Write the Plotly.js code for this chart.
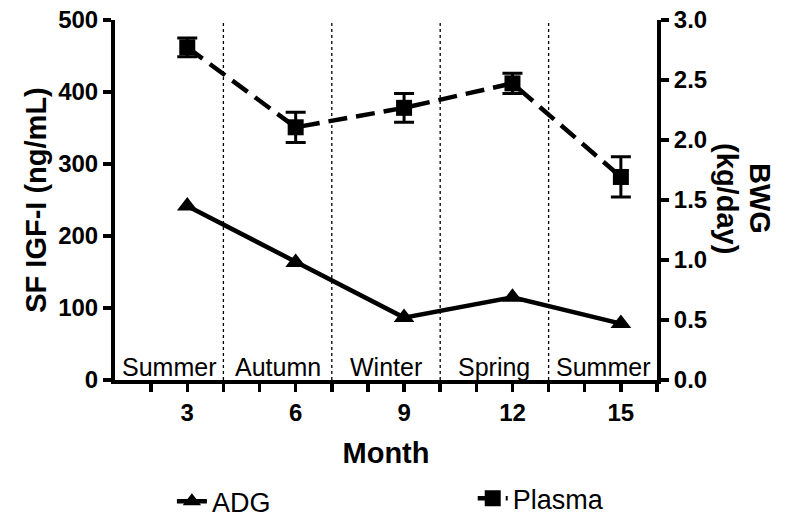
<!DOCTYPE html>
<html>
<head>
<meta charset="utf-8">
<script src="https://cdn.plot.ly/plotly-3.0.1.min.js"></script>
<style>html,body{margin:0;padding:0;background:#fff;}#chart{width:799px;height:520px;}</style>
</head>
<body>
<div id="chart"></div>
<script>
// Data
var months = [3, 6, 9, 12, 15];
var plasmaIGF = [462, 351, 378, 412, 282];      // SF IGF-I (ng/mL), left axis
var plasmaErr = [13, 21, 20, 14, 28];
var adgBWG = [1.45, 0.98, 0.52, 0.69, 0.47];    // BWG (kg/day), right axis
var seasons = ["Summer", "Autumn", "Winter", "Spring", "Summer"];
var seasonStarts = [1, 4, 7, 10, 13];
var seasonEnds = [4, 7, 10, 13, 16];
var xTickVals = [2,3,4,5,6,7,8,9,10,11,12,13,14,15,16];
var xTickText = ["","3","","","6","","","9","","","12","","","15",""];
var leftTicks = [0, 100, 200, 300, 400, 500];
var rightTicks = [0, 0.5, 1.0, 1.5, 2.0, 2.5, 3.0];

var FONT = "Arial, 'Liberation Sans', sans-serif";

var traces = [
  {
    x: months, y: adgBWG, yaxis: "y2", name: "ADG", legend: "legend",
    mode: "lines+markers", type: "scatter",
    line: {color: "#000", width: 4.5},
    marker: {symbol: "triangle-up", size: 18, color: "#000"}
  },
  {
    x: months, y: plasmaIGF, yaxis: "y", name: "Plasma", legend: "legend2",
    mode: "lines+markers", type: "scatter",
    line: {color: "#000", width: 4.5, dash: "19px,9px"},
    marker: {symbol: "square", size: 16, color: "#000"},
    error_y: {type: "data", array: plasmaErr, visible: true, color: "#000", thickness: 3, width: 10}
  }
];

var shapes = seasonStarts.slice(1).map(function (b) {
  return {type: "line", xref: "x", yref: "paper", x0: b, x1: b, y0: 0, y1: 1,
          line: {color: "#000", width: 1.3, dash: "dot"}, layer: "below"};
});

var annotations = seasons.map(function (s, i) {
  return {x: (seasonStarts[i] + seasonEnds[i]) / 2, y: 0, xref: "x", yref: "y",
          text: s, showarrow: false, yanchor: "bottom", yshift: -3,
          font: {family: FONT, size: 25, color: "#000"}};
});
annotations.push({
  xref: "paper", yref: "paper", x: 1.223, y: 0.503, text: "<b>BWG</b>",
  textangle: 90, showarrow: false, font: {family: FONT, size: 29, color: "#000"}
});
annotations.push({
  xref: "paper", yref: "paper", x: 1.162, y: 0.503, text: "<b>(kg/day)</b>",
  textangle: 90, showarrow: false, font: {family: FONT, size: 29, color: "#000"}
});

var legendFont = {family: FONT, size: 27, color: "#000"};

var layout = {
  width: 799, height: 520,
  margin: {l: 115, r: 142, t: 20, b: 140, autoexpand: false},
  paper_bgcolor: "#fff", plot_bgcolor: "#fff",
  font: {family: FONT, color: "#000"},
  showlegend: true,
  legend: {orientation: "h", x: 0.105, y: -0.338, xanchor: "left", yanchor: "middle", font: legendFont},
  legend2: {orientation: "h", x: 0.66, y: -0.33, xanchor: "left", yanchor: "middle", font: legendFont},
  xaxis: {
    range: [1, 16], tickvals: xTickVals, ticktext: xTickText,
    showgrid: false, zeroline: false, showline: true, linecolor: "#000", linewidth: 4,
    ticks: "outside", ticklen: 8, tickwidth: 3.5, tickcolor: "#000",
    tickfont: {family: FONT, size: 24, color: "#000", weight: "bold"},
    title: {text: "<b>Month</b>", font: {family: FONT, size: 29, color: "#000"}, standoff: 19}
  },
  yaxis: {
    range: [0, 500], tickvals: leftTicks,
    showgrid: false, zeroline: false, showline: true, linecolor: "#000", linewidth: 4,
    ticks: "outside", ticklen: 8, tickwidth: 3.5, tickcolor: "#000",
    tickfont: {family: FONT, size: 24, color: "#000", weight: "bold"},
    title: {text: "<b>SF IGF-I (ng/mL)</b>", font: {family: FONT, size: 29, color: "#000"}, standoff: 4}
  },
  yaxis2: {
    range: [0, 3], tickvals: rightTicks, tickformat: ".1f", overlaying: "y", side: "right",
    showgrid: false, zeroline: false, showline: true, linecolor: "#000", linewidth: 4,
    ticks: "outside", ticklen: 8, tickwidth: 3.5, tickcolor: "#000",
    tickfont: {family: FONT, size: 24, color: "#000", weight: "bold"}
  },
  shapes: shapes,
  annotations: annotations
};

Plotly.newPlot("chart", traces, layout, {displayModeBar: false, staticPlot: true});
</script>
</body>
</html>
